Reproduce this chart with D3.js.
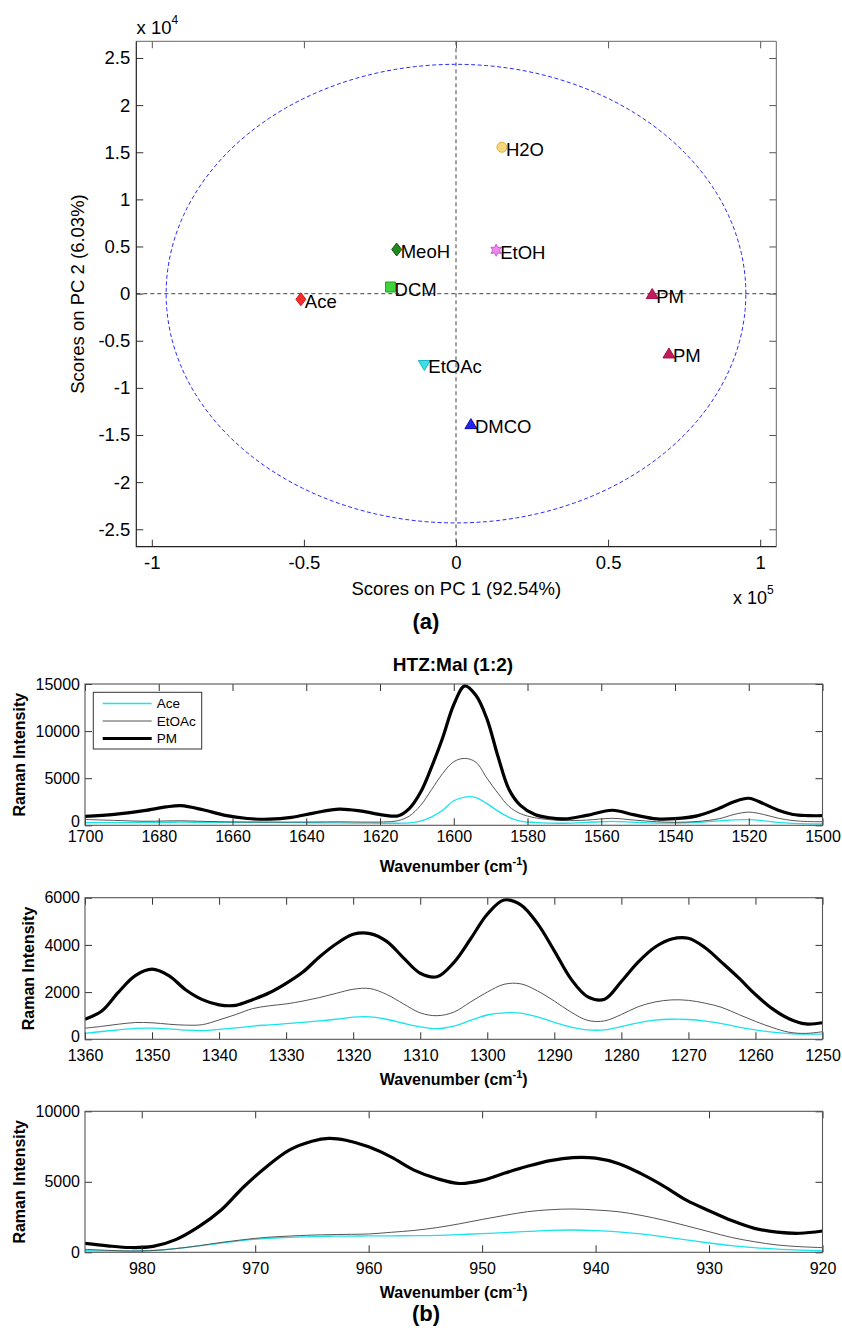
<!DOCTYPE html>
<html>
<head>
<meta charset="utf-8">
<script src="https://cdn.jsdelivr.net/npm/d3@7"></script>
<style>
  html, body { margin: 0; padding: 0; background: #fff; }
  svg { display: block; font-family: "Liberation Sans", Arial, Helvetica, sans-serif; }
</style>
</head>
<body>
<svg id="fig" width="842" height="1331"></svg>
<script>
// ---------------- (a) PCA scores ----------------
// PC1 scores are in units of 1e5, PC2 scores in units of 1e4
const solventNames = ["Ace", "DCM", "MeoH", "H2O", "EtOH", "PM", "PM", "EtOAc", "DMCO"];
const pc1Scores   = [-0.51, -0.215, -0.195, 0.151, 0.132, 0.645, 0.70, -0.104, 0.049];
const pc2Scores   = [-0.06, 0.07, 0.468, 1.553, 0.46, -0.01, -0.64, -0.752, -1.39];
// 95% confidence limit (semi-axes, same units as the scores)
const limitPc1 = 0.953;
const limitPc2 = 2.433;
const pcaXTicks = [-1, -0.5, 0, 0.5, 1];
const pcaYTicks = [-2.5, -2, -1.5, -1, -0.5, 0, 0.5, 1, 1.5, 2, 2.5];

// ---------------- (b) Raman spectra, HTZ:Mal (1:2) ----------------
const wnA = [1700,1692,1684,1678,1674,1668,1662,1656,1650,1644,1638,1631,1625,1619,1615,1612,1609,1606,1603,1600,1597,1594,1591,1588,1585,1582,1578,1574,1570,1564,1557,1551,1545,1540,1534,1528,1524,1520,1516,1512,1508,1504,1500];
const aceA = [280,290,300,320,330,320,310,300,300,280,270,250,230,220,220,250,450,900,1600,2600,3000,2950,2300,1500,850,450,300,230,220,300,420,320,240,230,300,470,580,600,480,300,200,150,140];
const etoacA = [620,520,430,460,480,420,370,350,340,340,350,370,340,360,500,1000,2100,3800,5500,6750,7100,6700,5000,3400,2000,1250,800,600,500,550,740,550,380,320,400,700,1150,1400,1150,750,500,400,380];
const pmA = [950,1150,1550,1950,2080,1650,1050,720,650,850,1300,1720,1500,1080,1020,1800,3500,6200,9300,12800,14800,13800,11300,7300,3800,2150,1150,800,680,1050,1600,1100,680,700,1000,1800,2500,2870,2300,1600,1150,1030,1020];

const wnB = [1360,1357.5,1355,1352.5,1350,1347.5,1345,1342.5,1340,1337.5,1335,1332.5,1330,1327.5,1325,1322.5,1320,1317.5,1315,1312.5,1310,1307.5,1305,1302.5,1300,1297.5,1295,1292.5,1290,1287.5,1285,1282.5,1280,1277.5,1275,1272.5,1270,1267.5,1265,1262.5,1260,1257.5,1255,1252.5,1250];
const aceB = [250,330,400,460,470,440,390,370,420,480,560,610,660,720,780,850,940,950,850,680,530,450,560,800,1030,1120,1110,950,720,520,400,400,540,700,810,850,840,770,660,520,400,300,240,220,220];
const etoacB = [470,550,640,710,700,640,600,620,820,1050,1300,1420,1500,1620,1770,1950,2120,2150,1900,1500,1120,1000,1150,1580,2000,2330,2350,2050,1620,1150,800,780,1050,1380,1580,1670,1650,1530,1350,1050,760,500,300,250,320];
const pmB = [850,1200,2000,2700,2970,2700,2100,1680,1460,1440,1680,1970,2370,2850,3500,4050,4450,4480,4150,3450,2800,2650,3250,4250,5300,5900,5700,4900,3750,2550,1800,1700,2450,3270,3900,4250,4280,3880,3250,2600,1900,1300,870,650,700];

const wnC = [985,983,981,979,977,975,973,971,969,967,965,963.5,962,960,958,956,954,952,950,948,946,944,942,940,938,936,934,932,930,928,926,924,922,920];
const aceC = [110,100,90,130,260,450,650,850,990,1060,1110,1140,1150,1160,1170,1180,1200,1260,1320,1400,1480,1560,1580,1540,1450,1300,1100,880,660,470,330,220,160,110];
const etoacC = [210,140,90,120,260,460,700,900,1060,1150,1220,1250,1270,1300,1420,1550,1750,2020,2330,2620,2880,3020,3070,3000,2880,2620,2280,1880,1460,1050,750,520,400,330];
const pmC = [640,460,340,420,900,1800,3000,4650,6070,7250,7880,8080,7950,7480,6750,5830,5230,4880,5100,5620,6100,6500,6720,6680,6300,5580,4700,3700,2950,2250,1700,1430,1350,1510];

const seriesNames = ["Ace", "EtOAc", "PM"];
const xTicksA = [1700,1680,1660,1640,1620,1600,1580,1560,1540,1520,1500];
const yTicksA = [0, 5000, 10000, 15000];
const xTicksB = [1360,1350,1340,1330,1320,1310,1300,1290,1280,1270,1260,1250];
const yTicksB = [0, 2000, 4000, 6000];
const xTicksC = [980,970,960,950,940,930,920];
const yTicksC = [0, 5000, 10000];

// ---------------- drawing ----------------
const svg = d3.select("#fig");

// ---- panel (a): scores plot ----
const pa = { left: 136.3, top: 41.3, right: 776.3, bottom: 546.7 };
const xPC = d3.scaleLinear().domain([-1.051, 1.053]).range([pa.left, pa.right]);
const yPC = d3.scaleLinear().domain([-2.685, 2.677]).range([pa.bottom, pa.top]);
const gA = svg.append("g");
const fsA = 18.5;

// zero lines
gA.append("line").attr("x1", xPC(0)).attr("x2", xPC(0)).attr("y1", pa.top).attr("y2", pa.bottom)
  .attr("stroke", "#666").attr("stroke-width", 1.2).attr("stroke-dasharray", "4,3");
gA.append("line").attr("x1", pa.left).attr("x2", pa.right).attr("y1", yPC(0)).attr("y2", yPC(0))
  .attr("stroke", "#666").attr("stroke-width", 1.2).attr("stroke-dasharray", "4,3");

// confidence ellipse
const ellipsePts = d3.range(0, 361, 2).map(a => {
  const t = a * Math.PI / 180;
  return [xPC(limitPc1 * Math.cos(t)), yPC(limitPc2 * Math.sin(t))];
});
gA.append("path").attr("d", d3.line()(ellipsePts)).attr("fill", "none")
  .attr("stroke", "#2b2bff").attr("stroke-width", 1).attr("stroke-dasharray", "4,2.5");

// axes (ticks point inwards, box on all four sides)
gA.append("g").attr("transform", `translate(0,${pa.bottom})`)
  .call(d3.axisBottom(xPC).tickValues(pcaXTicks).tickSize(-7).tickPadding(9).tickFormat(d3.format("")))
  .call(g => g.select(".domain").remove())
  .call(g => g.selectAll("text").attr("font-size", fsA).attr("fill", "#000").attr("font-family", null))
  .call(g => g.selectAll("line").attr("stroke", "#333"));
gA.append("g").attr("transform", `translate(0,${pa.top})`)
  .call(d3.axisTop(xPC).tickValues(pcaXTicks).tickSize(-7).tickFormat(""))
  .call(g => g.select(".domain").remove())
  .call(g => g.selectAll("line").attr("stroke", "#555"));
gA.append("g").attr("transform", `translate(${pa.left},0)`)
  .call(d3.axisLeft(yPC).tickValues(pcaYTicks).tickSize(-7).tickPadding(6).tickFormat(d3.format("")))
  .call(g => g.select(".domain").remove())
  .call(g => g.selectAll("text").attr("font-size", fsA).attr("fill", "#000").attr("font-family", null))
  .call(g => g.selectAll("line").attr("stroke", "#333"));
gA.append("g").attr("transform", `translate(${pa.right},0)`)
  .call(d3.axisRight(yPC).tickValues(pcaYTicks).tickSize(-7).tickFormat(""))
  .call(g => g.select(".domain").remove())
  .call(g => g.selectAll("line").attr("stroke", "#555"));
gA.selectAll(".tick text").text(function () { return this.textContent.replace("\u2212", "-"); });

gA.append("path").attr("d", `M${pa.left},${pa.top}H${pa.right}V${pa.bottom}`)
  .attr("fill", "none").attr("stroke", "#666").attr("stroke-width", 1);
gA.append("path").attr("d", `M${pa.left},${pa.top}V${pa.bottom}H${pa.right}`)
  .attr("fill", "none").attr("stroke", "#222").attr("stroke-width", 1.2);

// marker shapes
const shape = {
  diamond: (w, h) => `M0,${-h}L${w},0L0,${h}L${-w},0Z`,
  square: s => `M${-s},${-s}H${s}V${s}H${-s}Z`,
  circle: r => `M${r},0A${r},${r} 0 1,1 ${-r},0A${r},${r} 0 1,1 ${r},0Z`,
  triUp: (w, h) => `M0,${-h * 0.6}L${w},${h * 0.4}L${-w},${h * 0.4}Z`,
  triDown: (w, h) => `M0,${h * 0.6}L${w},${-h * 0.4}L${-w},${-h * 0.4}Z`,
  hexagram: r => {
    const p = [];
    for (let i = 0; i < 12; i++) {
      const a = -Math.PI / 2 + i * Math.PI / 6;
      const rr = i % 2 === 0 ? r : r * 0.55;
      p.push([rr * Math.cos(a), rr * Math.sin(a)]);
    }
    return d3.line()(p) + "Z";
  }
};
const markerStyle = {
  "Ace":   { d: shape.diamond(5, 6.5), fill: "#f52c2c", stroke: "#d81818" },
  "DCM":   { d: shape.square(5), fill: "#3fd43f", stroke: "#1e9e1e" },
  "MeoH":  { d: shape.diamond(5, 6.5), fill: "#1f8a1f", stroke: "#0d5a0d" },
  "H2O":   { d: shape.circle(5), fill: "#f6d77c", stroke: "#e2ad3c" },
  "EtOH":  { d: shape.hexagram(6), fill: "#ee88ee", stroke: "#cc55cc" },
  "PM":    { d: shape.triUp(6, 10), fill: "#c21a5a", stroke: "#a01248" },
  "EtOAc": { d: shape.triDown(6, 10), fill: "#38e2e2", stroke: "#1fb4c4" },
  "DMCO":  { d: shape.triUp(6, 10), fill: "#2424ee", stroke: "#0a0ab0" }
};

const scores = solventNames.map((n, i) => ({ name: n, pc1: pc1Scores[i], pc2: pc2Scores[i] }));
const pts = gA.append("g").selectAll("g").data(scores).join("g")
  .attr("transform", d => `translate(${xPC(d.pc1)},${yPC(d.pc2)})`);
pts.append("path").attr("d", d => markerStyle[d.name].d)
  .attr("fill", d => markerStyle[d.name].fill).attr("stroke", d => markerStyle[d.name].stroke)
  .attr("stroke-width", 1);
pts.append("text").attr("x", 4).attr("y", 2).attr("dy", "0.35em")
  .attr("font-size", fsA).attr("fill", "#000").text(d => d.name);

// axis titles
gA.append("text").attr("x", (pa.left + pa.right) / 2).attr("y", 595)
  .attr("text-anchor", "middle").attr("font-size", fsA).text("Scores on PC 1 (92.54%)");
gA.append("text").attr("transform", `translate(84,${(pa.top + pa.bottom) / 2}) rotate(-90)`)
  .attr("text-anchor", "middle").attr("font-size", fsA).text("Scores on PC 2 (6.03%)");
const expY = gA.append("text").attr("x", 136.5).attr("y", 33.5).attr("font-size", 18.5);
expY.append("tspan").text("x 10");
expY.append("tspan").attr("dy", -10).attr("font-size", 12).text("4");
const expX = gA.append("text").attr("x", 733).attr("y", 603.5).attr("font-size", 18);
expX.append("tspan").text("x 10");
expX.append("tspan").attr("dy", -10).attr("font-size", 12).text("5");

svg.append("text").attr("x", 426).attr("y", 629).attr("text-anchor", "middle")
  .attr("font-size", 22).attr("font-weight", "bold").text("(a)");

// ---- panels (b): Raman spectra ----
const seriesStyle = {
  "Ace":   { stroke: "#19e3ee", width: 1.3 },
  "EtOAc": { stroke: "#555555", width: 1.0 },
  "PM":    { stroke: "#000000", width: 3.2 }
};

const panels = [
  { wn: wnA, series: [aceA, etoacA, pmA], xDomain: [1700, 1500], yDomain: [0, 15000],
    xTicks: xTicksA, yTicks: yTicksA, top: 684, bottom: 825.3, tickBase: 842, zeroShift: -4,
    xlabelY: 871.5, ylabelX: 25, title: "HTZ:Mal (1:2)", legend: true },
  { wn: wnB, series: [aceB, etoacB, pmB], xDomain: [1360, 1250], yDomain: [0, 6000],
    xTicks: xTicksB, yTicks: yTicksB, top: 897.7, bottom: 1039.3, tickBase: 1061.5, zeroShift: -3,
    xlabelY: 1085, ylabelX: 33.5 },
  { wn: wnC, series: [aceC, etoacC, pmC], xDomain: [985, 920], yDomain: [0, 10000],
    xTicks: xTicksC, yTicks: yTicksC, top: 1111.3, bottom: 1252.3, tickBase: 1274, zeroShift: 0,
    xlabelY: 1298, ylabelX: 25 }
];
const pLeft = 85, pRight = 822.5;
const fsB = 16;

panels.forEach(p => {
  const g = svg.append("g");
  const x = d3.scaleLinear().domain(p.xDomain).range([pLeft, pRight]);
  const y = d3.scaleLinear().domain(p.yDomain).range([p.bottom, p.top]);

  const clipId = "clip" + Math.round(p.top);
  g.append("clipPath").attr("id", clipId).append("rect")
    .attr("x", pLeft).attr("y", p.top - 2).attr("width", pRight - pLeft).attr("height", p.bottom - p.top + 2);

  const line = d3.line().x(d => x(d[0])).y(d => y(d[1])).curve(d3.curveCatmullRom.alpha(0.5));
  const lines = g.append("g").attr("clip-path", `url(#${clipId})`);
  seriesNames.forEach((name, k) => {
    const pairs = p.wn.map((w, i) => [w, p.series[k][i]]);
    lines.append("path").attr("d", line(pairs)).attr("fill", "none")
      .attr("stroke", seriesStyle[name].stroke).attr("stroke-width", seriesStyle[name].width)
      .attr("stroke-linejoin", "round");
  });

  // axes
  g.append("g").attr("transform", `translate(0,${p.bottom})`)
    .call(d3.axisBottom(x).tickValues(p.xTicks).tickSize(-7).tickFormat(d3.format("")))
    .call(a => a.select(".domain").remove())
    .call(a => a.selectAll("text").attr("font-size", fsB).attr("fill", "#000").attr("font-family", null)
      .attr("dy", null).attr("y", p.tickBase - p.bottom))
    .call(a => a.selectAll("line").attr("stroke", "#333"));
  g.append("g").attr("transform", `translate(0,${p.top})`)
    .call(d3.axisTop(x).tickValues(p.xTicks).tickSize(-7).tickFormat(""))
    .call(a => a.select(".domain").remove())
    .call(a => a.selectAll("line").attr("stroke", "#333"));
  g.append("g").attr("transform", `translate(${pLeft},0)`)
    .call(d3.axisLeft(y).tickValues(p.yTicks).tickSize(-7).tickPadding(5).tickFormat(d3.format("")))
    .call(a => a.select(".domain").remove())
    .call(a => a.selectAll("text").attr("font-size", fsB).attr("fill", "#000").attr("font-family", null))
    .call(a => a.selectAll(".tick").filter(d => d === 0).select("text").attr("y", p.zeroShift))
    .call(a => a.selectAll("line").attr("stroke", "#333"));
  g.append("g").attr("transform", `translate(${pRight},0)`)
    .call(d3.axisRight(y).tickValues(p.yTicks).tickSize(-7).tickFormat(""))
    .call(a => a.select(".domain").remove())
    .call(a => a.selectAll("line").attr("stroke", "#333"));
  g.append("rect").attr("x", pLeft).attr("y", p.top).attr("width", pRight - pLeft).attr("height", p.bottom - p.top)
    .attr("fill", "none").attr("stroke", "#555").attr("stroke-width", 1.1);

  // x label
  const xl = g.append("text").attr("x", (pLeft + pRight) / 2).attr("y", p.xlabelY)
    .attr("text-anchor", "middle").attr("font-size", fsB).attr("font-weight", "bold");
  xl.append("tspan").text("Wavenumber (cm");
  xl.append("tspan").attr("dy", -7).attr("font-size", 11).text("-1");
  xl.append("tspan").attr("dy", 7).text(")");

  // y label
  g.append("text").attr("transform", `translate(${p.ylabelX},${(p.top + p.bottom) / 2}) rotate(-90)`)
    .attr("text-anchor", "middle").attr("font-size", fsB).attr("font-weight", "bold").text("Raman Intensity");

  if (p.title) {
    g.append("text").attr("x", 453).attr("y", 671).attr("text-anchor", "middle")
      .attr("font-size", 19).attr("font-weight", "bold").text(p.title);
  }

  if (p.legend) {
    const lg = g.append("g");
    lg.append("rect").attr("x", 93.3).attr("y", 692.3).attr("width", 108.4).attr("height", 56.7)
      .attr("fill", "#fff").attr("stroke", "#333").attr("stroke-width", 1);
    const rowY = d3.scalePoint().domain(seriesNames).range([703.5, 738.5]);
    seriesNames.forEach(name => {
      lg.append("line").attr("x1", 102.7).attr("x2", 151.7).attr("y1", rowY(name)).attr("y2", rowY(name))
        .attr("stroke", seriesStyle[name].stroke).attr("stroke-width", seriesStyle[name].width);
      lg.append("text").attr("x", 156.7).attr("y", rowY(name)).attr("dy", "0.35em")
        .attr("font-size", 13.5).text(name);
    });
  }
});

svg.append("text").attr("x", 426).attr("y", 1321).attr("text-anchor", "middle")
  .attr("font-size", 22).attr("font-weight", "bold").text("(b)");
</script>
</body>
</html>
